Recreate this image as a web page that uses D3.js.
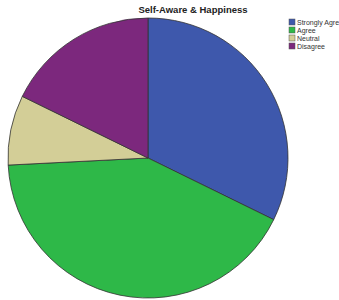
<!DOCTYPE html>
<html>
<head>
<meta charset="utf-8">
<script src="https://cdn.jsdelivr.net/npm/d3@7"></script>
<style>
  html, body { margin: 0; padding: 0; background: #fff; overflow: hidden; }
</style>
</head>
<body>
<svg id="chart" width="339" height="300"></svg>
<script>
// answers to "Self-Aware & Happiness" (counts)
var categories = ["Strongly Agre", "Agree", "Neutral", "Disagree"];
var counts = [20, 26, 5, 11];
var colours = ["#3e58ac", "#2eb848", "#d3ce97", "#7c287d"];

var svg = d3.select("#chart");

var cx = 148, cy = 158, R = 140;

var colour = d3.scaleOrdinal().domain(categories).range(colours);

var pie = d3.pie().sort(null).value(function(d){ return d.n; });
var arc = d3.arc().innerRadius(0).outerRadius(R);

var rows = categories.map(function(c, i){ return {name: c, n: counts[i]}; });

var g = svg.append("g").attr("transform", "translate(" + cx + "," + cy + ")");
g.selectAll("path").data(pie(rows)).enter().append("path")
    .attr("d", arc)
    .style("fill", function(d){ return colour(d.data.name); })
    .style("stroke", "#333")
    .style("stroke-width", 0.8);

// title
svg.append("text")
    .attr("x", 193).attr("y", 13)
    .attr("text-anchor", "middle")
    .style("font-family", "Liberation Sans, Arial, sans-serif")
    .style("font-weight", "bold")
    .style("font-size", "9.5px")
    .style("fill", "#222")
    .text("Self-Aware & Happiness");

// legend
var leg = svg.append("g").attr("transform", "translate(289,19)");
var item = leg.selectAll("g").data(categories).enter().append("g")
    .attr("transform", function(d, i){ return "translate(0," + (i * 8) + ")"; });
item.append("rect")
    .attr("width", 6).attr("height", 6)
    .style("fill", function(d){ return colour(d); })
    .style("stroke", "#555")
    .style("stroke-width", 0.5);
item.append("text")
    .attr("x", 8).attr("y", 5.5)
    .style("font-family", "Liberation Sans, Arial, sans-serif")
    .style("font-size", "7px")
    .style("fill", "#333")
    .text(function(d){ return d; });
</script>
</body>
</html>
